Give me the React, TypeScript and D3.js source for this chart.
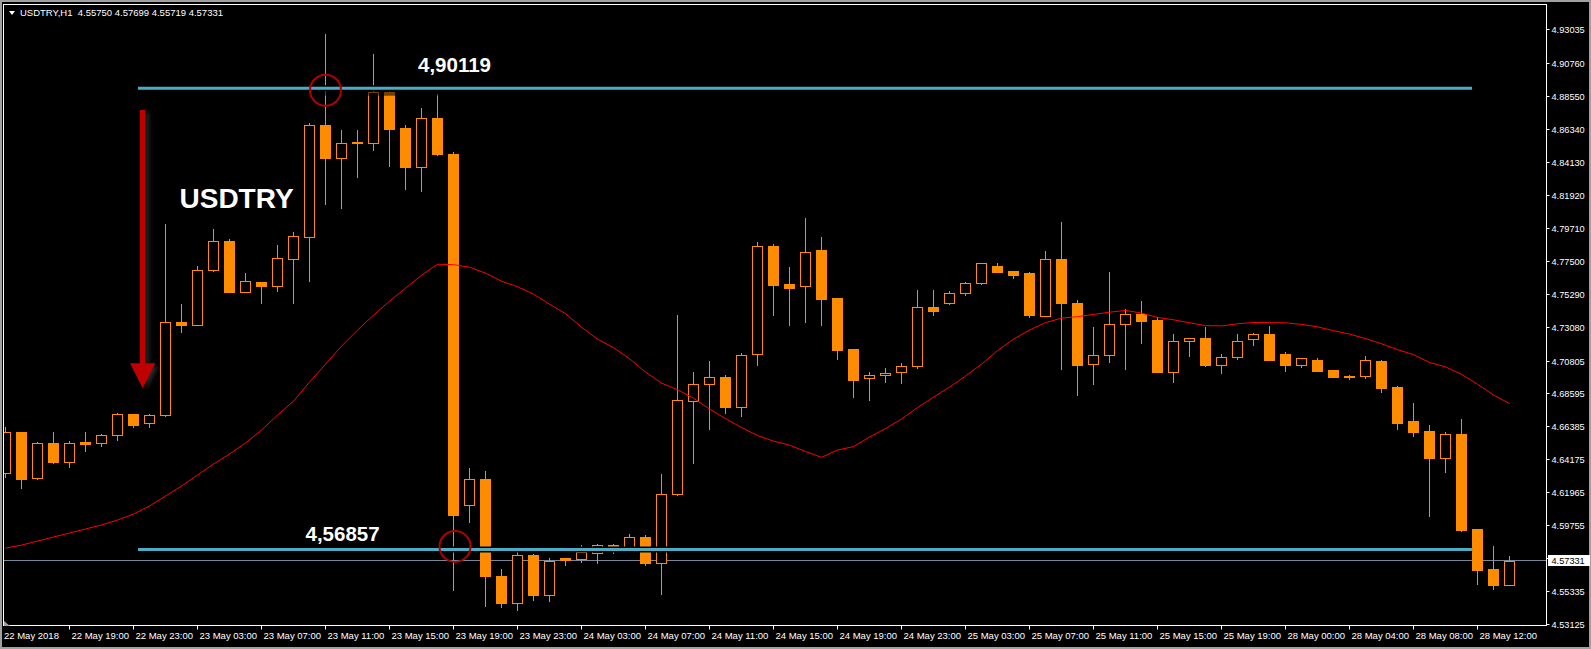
import React from 'react';
import * as d3 from 'd3';

const W = 1591;
const H = 649;

// hourly candles 22 May 2018 15:00 .. 28 May 2018 14:00 (server time)
const opens = [
  4.6327, 4.6598, 4.6290, 4.6525, 4.6401, 4.6533, 4.6525, 4.6578, 4.6719, 4.6659,
  4.6712, 4.7336, 4.7320, 4.7685, 4.7886, 4.7541, 4.7606, 4.7582, 4.7763, 4.7912,
  4.8664, 4.8441, 4.8545, 4.8543, 4.8885, 4.8639, 4.8381, 4.8711, 4.8470, 4.6113,
  4.6285, 4.5634, 4.5455, 4.5775, 4.5509, 4.5755, 4.5750, 4.5791, 4.5842, 4.5829,
  4.5894, 4.5724, 4.6183, 4.6806, 4.6920, 4.6967, 4.6770, 4.7126, 4.7846, 4.7593,
  4.7578, 4.7821, 4.7499, 4.7157, 4.6961, 4.6981, 4.7001, 4.7041, 4.7437, 4.7464,
  4.7537, 4.7604, 4.7712, 4.7680, 4.7667, 4.7380, 4.7765, 4.7470, 4.7054, 4.7115,
  4.7323, 4.7392, 4.7352, 4.7005, 4.7209, 4.7229, 4.7052, 4.7101, 4.7222, 4.7262,
  4.7122, 4.7048, 4.7081, 4.7014, 4.6978, 4.6974, 4.7077, 4.6902, 4.6674, 4.6607,
  4.6428, 4.6585, 4.5948, 4.5679, 4.5575,
];
const highs = [
  4.6632, 4.6600, 4.6535, 4.6598, 4.6540, 4.6598, 4.6587, 4.6730, 4.6721, 4.6721,
  4.7996, 4.7459, 4.7714, 4.7960, 4.7893, 4.7667, 4.7606, 4.7855, 4.7944, 4.8674,
  4.9270, 4.8627, 4.8627, 4.9136, 4.8924, 4.8660, 4.8774, 4.8867, 4.8480, 4.6359,
  4.6339, 4.5681, 4.5795, 4.5779, 4.5755, 4.5755, 4.5840, 4.5849, 4.5847, 4.5916,
  4.5910, 4.6319, 4.7389, 4.7001, 4.7077, 4.6983, 4.7128, 4.7875, 4.7861, 4.7707,
  4.8036, 4.7908, 4.7499, 4.7157, 4.7003, 4.7030, 4.7063, 4.7553, 4.7553, 4.7548,
  4.7606, 4.7734, 4.7734, 4.7680, 4.7675, 4.7814, 4.8009, 4.7486, 4.7305, 4.7674,
  4.7425, 4.7479, 4.7370, 4.7258, 4.7231, 4.7305, 4.7124, 4.7258, 4.7264, 4.7311,
  4.7137, 4.7097, 4.7097, 4.7014, 4.6985, 4.7110, 4.7085, 4.6909, 4.6795, 4.6647,
  4.6600, 4.6688, 4.5950, 4.5836, 4.57699,
];
const lows = [
  4.6299, 4.6223, 4.6288, 4.6390, 4.6368, 4.6475, 4.6508, 4.6547, 4.6632, 4.6632,
  4.6711, 4.7273, 4.7318, 4.7684, 4.7541, 4.7541, 4.7468, 4.7548, 4.7468, 4.7615,
  4.8128, 4.8106, 4.8314, 4.8495, 4.8389, 4.8232, 4.8220, 4.8458, 4.5543, 4.5999,
  4.5435, 4.5429, 4.5406, 4.5473, 4.5467, 4.5708, 4.5730, 4.5724, 4.5791, 4.5822,
  4.5710, 4.5512, 4.6181, 4.6392, 4.6622, 4.6730, 4.6710, 4.7052, 4.7387, 4.7320,
  4.7340, 4.7320, 4.7092, 4.6837, 4.6817, 4.6938, 4.6931, 4.7032, 4.7387, 4.7462,
  4.7521, 4.7595, 4.7676, 4.7633, 4.7374, 4.7378, 4.7025, 4.6851, 4.6924, 4.7070,
  4.7025, 4.7199, 4.7005, 4.6938, 4.7112, 4.7045, 4.6998, 4.7092, 4.7186, 4.7085,
  4.7012, 4.7038, 4.7012, 4.6971, 4.6958, 4.6965, 4.6871, 4.6620, 4.6575, 4.6039,
  4.6334, 4.5938, 4.5583, 4.5549, 4.55719,
];
const closes = [
  4.6598, 4.6283, 4.6525, 4.6401, 4.6525, 4.6523, 4.6578, 4.6719, 4.6649, 4.6712,
  4.7336, 4.7320, 4.7687, 4.7886, 4.7541, 4.7611, 4.7582, 4.7772, 4.7913, 4.8664,
  4.8441, 4.8543, 4.8543, 4.8885, 4.8634, 4.8381, 4.8711, 4.8468, 4.6046, 4.6283,
  4.5637, 4.5455, 4.5773, 4.5509, 4.5735, 4.5742, 4.5795, 4.5840, 4.5829, 4.5894,
  4.5724, 4.6185, 4.6813, 4.6920, 4.6967, 4.6770, 4.7115, 4.7846, 4.7588, 4.7568,
  4.7812, 4.7494, 4.7152, 4.6951, 4.6981, 4.6996, 4.7041, 4.7437, 4.7414, 4.7537,
  4.7604, 4.7732, 4.7676, 4.7655, 4.7387, 4.7765, 4.7468, 4.7052, 4.7115, 4.7323,
  4.7390, 4.7347, 4.7005, 4.7209, 4.7229, 4.7052, 4.7101, 4.7209, 4.7262, 4.7085,
  4.7052, 4.7095, 4.7012, 4.6971, 4.6971, 4.7081, 4.6898, 4.6663, 4.6602, 4.6428,
  4.6585, 4.5945, 4.5677, 4.5576, 4.57331,
];
// red moving average
const maValues = [
  4.5822, 4.5842, 4.5869, 4.5896, 4.5923, 4.5950, 4.5977, 4.6010, 4.6050, 4.6104,
  4.6171, 4.6238, 4.6312, 4.6386, 4.6453, 4.6527, 4.6614, 4.6714, 4.6808, 4.6936,
  4.7056, 4.7177, 4.7285, 4.7385, 4.7479, 4.7566, 4.7653, 4.7727, 4.7724, 4.7707,
  4.7667, 4.7613, 4.7576, 4.7526, 4.7459, 4.7395, 4.7305, 4.7224, 4.7167, 4.7093,
  4.7003, 4.6929, 4.6885, 4.6828, 4.6755, 4.6691, 4.6631, 4.6577, 4.6540, 4.6513,
  4.6470, 4.6431, 4.6480, 4.6503, 4.6567, 4.6624, 4.6688, 4.6765, 4.6835, 4.6902,
  4.6976, 4.7056, 4.7147, 4.7224, 4.7285, 4.7335, 4.7365, 4.7375, 4.7390, 4.7405,
  4.7417, 4.7399, 4.7370, 4.7354, 4.7334, 4.7315, 4.7313, 4.7327, 4.7336, 4.7335,
  4.7334, 4.7323, 4.7307, 4.7281, 4.7258, 4.7228, 4.7193, 4.7154, 4.7120, 4.7068,
  4.7038, 4.6988, 4.6922, 4.6849, 4.6792,
];

const yTickValues = [
  4.93035, 4.9076, 4.8855, 4.8634, 4.8413, 4.8192, 4.7971, 4.775, 4.7529, 4.7308,
  4.70805, 4.68595, 4.66385, 4.64175, 4.61965, 4.59755, 4.57545, 4.55335, 4.53125,
];
const yTickLabels = [
  '4.93035', '4.90760', '4.88550', '4.86340', '4.84130', '4.81920', '4.79710', '4.77500', '4.75290', '4.73080',
  '4.70805', '4.68595', '4.66385', '4.64175', '4.61965', '4.59755', '4.57545', '4.55335', '4.53125',
];
const xTickIndex = [4, 8, 12, 16, 20, 24, 28, 32, 36, 40, 44, 48, 52, 56, 60, 64, 68, 72, 76, 80, 84, 88, 92];
const xTickLabels = [
  '22 May 19:00', '22 May 23:00', '23 May 03:00', '23 May 07:00', '23 May 11:00', '23 May 15:00',
  '23 May 19:00', '23 May 23:00', '24 May 03:00', '24 May 07:00', '24 May 11:00', '24 May 15:00',
  '24 May 19:00', '24 May 23:00', '25 May 03:00', '25 May 07:00', '25 May 11:00', '25 May 15:00',
  '25 May 19:00', '28 May 00:00', '28 May 04:00', '28 May 08:00', '28 May 12:00',
];
const firstDateLabel = '22 May 2018';
const header = 'USDTRY,H1  4.55750 4.57699 4.55719 4.57331';

// drawn horizontal levels (price where drawn, text written, bar index span)
const levelPrices = [4.8908, 4.5813];
const levelTexts = ['4,90119', '4,56857'];
const levelStart = 8.28;
const levelEnd = 91.66;
const circleIdx = [20, 28];

const ORANGE = '#FF8C00';
const BLUE = '#4BACC6';
const FONT = '"Liberation Sans", Arial, sans-serif';

export default function App() {
  const n = closes.length;
  const x = d3.scaleLinear().domain([0, n - 1]).range([5.5, 5.5 + 16 * (n - 1)]);
  const y = d3.scaleLinear().domain([4.53125, 4.93035]).range([624, 29.3]);

  const left = 3.5, top = 4.5, right = 1546.5, bottom = 625.5;

  const maLine = d3
    .line<number>()
    .x((_, i) => x(i))
    .y((d) => y(d))(maValues) as string;

  const lastClose = closes[n - 1];
  const lastY = Math.round(y(lastClose)) - 0.5;

  const candles = closes.map((c, i) => {
    const o = opens[i];
    const cx = Math.round(x(i) - 0.5) + 0.5;
    const yH = Math.round(y(highs[i]));
    const yL = Math.round(y(lows[i]));
    const t = Math.round(y(Math.max(o, c)));
    const b = Math.round(y(Math.min(o, c)));
    const bull = c > o;
    return (
      <g key={i}>
        <line x1={cx} x2={cx} y1={yH} y2={yL + 1} stroke={ORANGE} strokeWidth={1} />
        {b - t <= 1 ? (
          <rect x={cx - 5.5} y={t} width={11} height={Math.max(b - t, 1) + (bull ? 0 : 1)} fill={ORANGE} />
        ) : bull ? (
          <rect x={cx - 5} y={t + 0.5} width={10} height={b - t} fill="#000" stroke={ORANGE} strokeWidth={1} />
        ) : (
          <rect x={cx - 5.5} y={t} width={11} height={b - t + 1} fill={ORANGE} />
        )}
      </g>
    );
  });

  const lx1 = x(levelStart);
  const lx2 = x(levelEnd);

  return (
    <svg
      width={W}
      height={H}
      style={{ position: 'absolute', left: 0, top: 0, display: 'block', background: '#000' }}
      fontFamily={FONT}
    >
      <defs>
        <clipPath id="plot">
          <rect x={4} y={5} width={1542} height={620} />
        </clipPath>
        <filter id="soft" x="-50%" y="-50%" width="200%" height="200%">
          <feGaussianBlur stdDeviation="2" />
        </filter>
      </defs>
      <rect x={0} y={0} width={W} height={H} fill="#000" />
      <rect x={1} y={1} width={W - 2} height={H - 2} fill="none" stroke="#a0a0a0" strokeWidth={2} />

      <g clipPath="url(#plot)">
        {/* current price line */}
        <line x1={left} x2={right} y1={lastY} y2={lastY} stroke="#778899" strokeWidth={1} />
        {candles}
        <path d={maLine} fill="none" stroke="#ff0000" strokeWidth={1} />

        {/* horizontal levels */}
        {levelPrices.map((p, i) => {
          const ly = y(p);
          return (
            <g key={i}>
              {i === 0 && <rect x={lx1} y={ly + 1.5} width={lx2 - lx1} height={6} fill="#000" opacity={0.55} />}
              <line x1={lx1} x2={lx2} y1={ly} y2={ly} stroke="#000" strokeWidth={6} />
              <line x1={lx1} x2={lx2} y1={ly} y2={ly} stroke={BLUE} strokeWidth={3} />
            </g>
          );
        })}
        {circleIdx.map((ci, i) => (
          <circle
            key={i}
            cx={x(ci) + (i === 1 ? 1.5 : 0)}
            cy={y(levelPrices[i]) + (i === 0 ? 2 : -3)}
            r={15.5}
            fill="none"
            stroke="#b00000"
            strokeWidth={2}
          />
        ))}
        <text x={418} y={72} fill="#fff" fontSize={20.5} fontWeight="bold">
          {levelTexts[0]}
        </text>
        <text x={305.5} y={540.5} fill="#fff" fontSize={20.5} fontWeight="bold">
          {levelTexts[1]}
        </text>

        {/* arrow */}
        <g opacity={0.35} filter="url(#soft)">
          <rect x={145} y={112} width={4} height={252} fill="#808080" />
          <path d="M145,366 L158,366 L146,390 Z" fill="#808080" />
        </g>
        <rect x={140} y={110} width={5.3} height={254} fill="#c00000" />
        <path d="M130,363.3 L155.3,363.3 L142.7,388.3 Z" fill="#c00000" />

        <text x={179.5} y={207.5} fill="#fff" fontSize={28} fontWeight="bold">
          USDTRY
        </text>
      </g>

      {/* frame */}
      <rect x={left} y={top} width={right - left} height={bottom - top} fill="none" stroke="#fff" strokeWidth={1} />

      {/* header */}
      <path d="M9,11 L15,11 L12,15 Z" fill="#fff" />
      <text x={20} y={16} fill="#fff" fontSize={9.5} style={{ whiteSpace: 'pre' }}>
        {header}
      </text>

      {/* y axis */}
      {yTickValues.map((v, i) => {
        const ty = Math.round(y(v)) + 0.5;
        return (
          <g key={i}>
            <line x1={right} x2={right + 3} y1={ty} y2={ty} stroke="#fff" strokeWidth={1} />
            <text x={1551.5} y={ty} dy="0.35em" fill="#fff" fontSize={9.2}>
              {yTickLabels[i]}
            </text>
          </g>
        );
      })}
      <rect x={1548} y={lastY - 5.5} width={42} height={11} fill="#fff" />
      <text x={1551.5} y={lastY} dy="0.35em" fill="#000" fontSize={9.2}>
        {d3.format('.5f')(lastClose)}
      </text>

      {/* x axis */}
      <path d="M4,621 L4,626 L10,626 Z" fill="#a0a0a0" />
      <text x={4} y={639} fill="#fff" fontSize={9.5}>
        {firstDateLabel}
      </text>
      {xTickIndex.map((k, i) => {
        const tx = Math.round(x(k) - 0.5) + 0.5;
        return (
          <g key={i}>
            <line x1={tx} x2={tx} y1={bottom} y2={bottom + 4} stroke="#fff" strokeWidth={1} />
            <text x={tx + 2} y={639} fill="#fff" fontSize={9.5}>
              {xTickLabels[i]}
            </text>
          </g>
        );
      })}
    </svg>
  );
}
